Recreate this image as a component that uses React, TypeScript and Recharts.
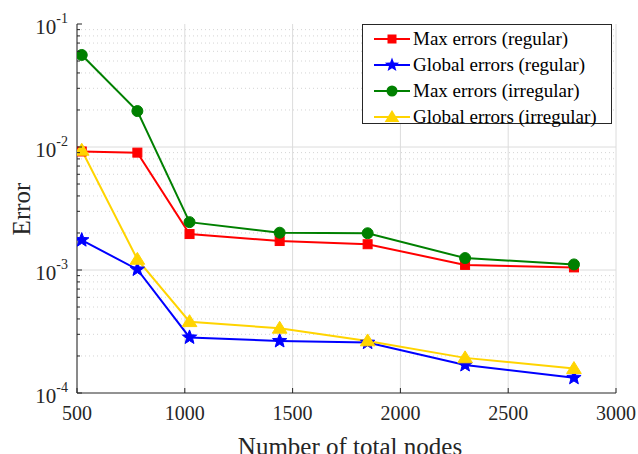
import React from "react";
import { LineChart, Line, XAxis, YAxis, CartesianGrid, ReferenceLine } from "recharts";

const nodes = [522, 780, 1022, 1440, 1848, 2300, 2805];
const maxRegular = [9.2e-3, 9.0e-3, 1.96e-3, 1.72e-3, 1.62e-3, 1.1e-3, 1.05e-3];
const globalRegular = [1.75e-3, 1.01e-3, 2.83e-4, 2.65e-4, 2.57e-4, 1.69e-4, 1.33e-4];
const maxIrregular = [5.6e-2, 1.96e-2, 2.45e-3, 2.01e-3, 1.99e-3, 1.25e-3, 1.11e-3];
const globalIrregular = [9.4e-3, 1.22e-3, 3.8e-4, 3.36e-4, 2.65e-4, 1.93e-4, 1.58e-4];

const xTicks = [500, 1000, 1500, 2000, 2500, 3000];
const yMajor = [1e-4, 1e-3, 1e-2, 1e-1];
const yMinor: number[] = [];
[1e-4, 1e-3, 1e-2].forEach((d) => {
  for (let k = 2; k <= 9; k++) yMinor.push(d * k);
});
const yAll = [...yMajor, ...yMinor].sort((a, b) => a - b);

const legendLabels = [
  "Max errors (regular)",
  "Global errors (regular)",
  "Max errors (irregular)",
  "Global errors (irregular)",
];

const data = nodes.map((n, i) => ({
  n,
  a: maxRegular[i],
  b: globalRegular[i],
  c: maxIrregular[i],
  d: globalIrregular[i],
}));

const FONT = "'Liberation Serif', 'Times New Roman', serif";
const AX = "#262626";
const RED = "#ff0000";
const BLUE = "#0000ff";
const GREEN = "#008000";
const YELLOW = "#ffd400";

const isMajor = (v: number) => {
  const l = Math.log10(v);
  return Math.abs(l - Math.round(l)) < 1e-6;
};

const YTickLeft = (props: any) => {
  const { x, y, payload } = props;
  const v = payload.value;
  const major = isMajor(v);
  const exp = Math.round(Math.log10(v));
  return (
    <g>
      <line x1={x} x2={x + (major ? 5 : 3)} y1={y} y2={y} stroke={AX} strokeWidth={1} />
      {major && (
        <text x={x - 9} y={y + 10} textAnchor="end" fontFamily={FONT} fontSize={21} fill={AX}>
          10
          <tspan dy={-11} fontSize={14}>{exp}</tspan>
        </text>
      )}
    </g>
  );
};

const YTickRight = (props: any) => {
  const { x, y, payload } = props;
  const major = isMajor(payload.value);
  return <line x1={x} x2={x - (major ? 5 : 3)} y1={y} y2={y} stroke={AX} strokeWidth={1} />;
};

const XTickBottom = (props: any) => {
  const { x, y, payload } = props;
  return (
    <g>
      <line x1={x} x2={x} y1={y} y2={y - 5} stroke={AX} strokeWidth={1} />
      <text x={x} y={y + 27} textAnchor="middle" fontFamily={FONT} fontSize={20} fill={AX}>
        {payload.value}
      </text>
    </g>
  );
};

const XTickTop = (props: any) => {
  const { x, y } = props;
  return <line x1={x} x2={x} y1={y} y2={y + 5} stroke={AX} strokeWidth={1} />;
};

const SquareDot = (p: any) =>
  p.cx == null ? null : <rect x={p.cx - 4.5} y={p.cy - 4.5} width={9} height={9} fill={RED} stroke={RED} />;
const CircleDot = (p: any) =>
  p.cx == null ? null : <circle cx={p.cx} cy={p.cy} r={5.5} fill={GREEN} stroke={GREEN} />;
const starPath = (cx: number, cy: number, R: number, r: number) => {
  let d = "";
  for (let i = 0; i < 10; i++) {
    const ang = -Math.PI / 2 + (i * Math.PI) / 5;
    const rad = i % 2 === 0 ? R : r;
    d += (i === 0 ? "M" : "L") + (cx + rad * Math.cos(ang)).toFixed(2) + "," + (cy + rad * Math.sin(ang)).toFixed(2);
  }
  return d + "Z";
};
const StarDot = (p: any) =>
  p.cx == null ? null : <path d={starPath(p.cx, p.cy, 7.5, 3.2)} fill={BLUE} stroke={BLUE} strokeWidth={1} />;
const triPath = (cx: number, cy: number, s: number) =>
  `M${cx},${cy - s}L${cx + s * 1.05},${cy + s * 0.7}L${cx - s * 1.05},${cy + s * 0.7}Z`;
const TriDot = (p: any) =>
  p.cx == null ? null : <path d={triPath(p.cx, p.cy, 7)} fill={YELLOW} stroke={YELLOW} strokeWidth={1} />;

const legendMarkers = [
  (cx: number, cy: number) => <rect x={cx - 4.5} y={cy - 4.5} width={9} height={9} fill={RED} />,
  (cx: number, cy: number) => <path d={starPath(cx, cy, 7.5, 3.2)} fill={BLUE} />,
  (cx: number, cy: number) => <circle cx={cx} cy={cy} r={5.5} fill={GREEN} />,
  (cx: number, cy: number) => <path d={triPath(cx, cy, 7)} fill={YELLOW} />,
];
const legendColors = [RED, BLUE, GREEN, YELLOW];

export default function App() {
  return (
    <div style={{ position: "absolute", left: 0, top: 0, width: 638, height: 454, background: "#fff", overflow: "hidden" }}>
      <LineChart width={638} height={454} data={data} margin={{ top: 24, right: 22, bottom: 0, left: 0 }}>
        <CartesianGrid horizontal={false} vertical stroke="#dcdcdc" strokeWidth={1} />
        {yMinor.map((v) => (
          <ReferenceLine key={"m" + v} y={v} stroke="#d4d4d4" strokeDasharray="1 3" strokeWidth={1} />
        ))}
        {yMajor.slice(1, 3).map((v) => (
          <ReferenceLine key={"M" + v} y={v} stroke="#dcdcdc" strokeWidth={1} />
        ))}
        <XAxis
          dataKey="n"
          type="number"
          domain={[500, 3000]}
          ticks={xTicks}
          interval={0}
          height={61}
          tickSize={0}
          tickMargin={0}
          tickLine={false}
          axisLine={{ stroke: AX }}
          tick={<XTickBottom />}
          allowDataOverflow
        />
        <XAxis
          xAxisId="top"
          orientation="top"
          dataKey="n"
          type="number"
          domain={[500, 3000]}
          ticks={xTicks}
          interval={0}
          height={0}
          tickSize={0}
          tickMargin={0}
          tickLine={false}
          axisLine={{ stroke: AX }}
          tick={<XTickTop />}
        />
        <YAxis
          scale="log"
          type="number"
          domain={[1e-4, 1e-1]}
          ticks={yAll}
          interval={0}
          width={77}
          tickSize={0}
          tickMargin={0}
          tickLine={false}
          axisLine={{ stroke: AX }}
          tick={<YTickLeft />}
          allowDataOverflow
        />
        <YAxis
          yAxisId="right"
          orientation="right"
          scale="log"
          type="number"
          domain={[1e-4, 1e-1]}
          ticks={yAll}
          interval={0}
          width={0}
          tickSize={0}
          tickMargin={0}
          tickLine={false}
          axisLine={{ stroke: AX }}
          tick={<YTickRight />}
        />
        <Line dataKey="a" stroke={RED} strokeWidth={2} dot={<SquareDot />} isAnimationActive={false} />
        <Line dataKey="b" stroke={BLUE} strokeWidth={2} dot={<StarDot />} isAnimationActive={false} />
        <Line dataKey="c" stroke={GREEN} strokeWidth={2} dot={<CircleDot />} isAnimationActive={false} />
        <Line dataKey="d" stroke={YELLOW} strokeWidth={2} dot={<TriDot />} isAnimationActive={false} />
      </LineChart>
      <svg style={{ position: "absolute", left: 0, top: 0 }} width={638} height={454}>
        <text x={350} y={455} textAnchor="middle" fontFamily={FONT} fontSize={25} fill={AX}>
          Number of total nodes
        </text>
        <text
          x={30}
          y={209}
          transform="rotate(-90, 30, 209)"
          textAnchor="middle"
          fontFamily={FONT}
          fontSize={25}
          fill={AX}
        >
          Error
        </text>
        <rect x={362.5} y={24.5} width={249} height={99} fill="#fff" stroke={AX} strokeWidth={1} />
        {legendLabels.map((lab, i) => {
          const cy = 39 + i * 26;
          return (
            <g key={lab}>
              <line x1={374} x2={410} y1={cy} y2={cy} stroke={legendColors[i]} strokeWidth={2} />
              {legendMarkers[i](392, cy)}
              <text x={413} y={cy + 6} fontFamily={FONT} fontSize={19} fill="#000">
                {lab}
              </text>
            </g>
          );
        })}
      </svg>
    </div>
  );
}
